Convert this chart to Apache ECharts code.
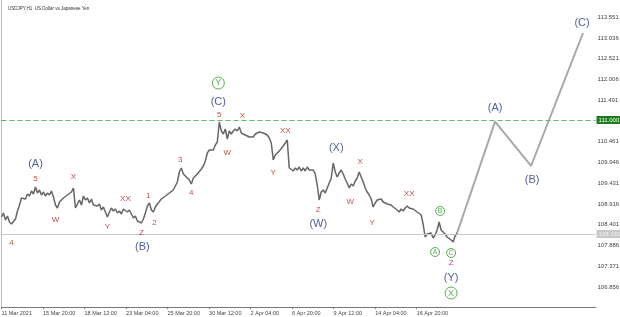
<!DOCTYPE html>
<html>
<head>
<meta charset="utf-8">
<title>USDJPY H1</title>
<script src="https://cdn.jsdelivr.net/npm/echarts@6.0.0/dist/echarts.min.js"></script>
<style>
  html, body { margin: 0; padding: 0; background: #fff; }
  #chart { width: 620px; height: 317px; }
</style>
</head>
<body>
<div id="chart"></div>
<script>
var closes = [
  108.593,108.692,108.519,108.618,108.469,108.419,108.370,108.543,108.742,108.891,
  109.065,109.114,109.040,109.164,109.114,109.238,109.164,109.337,109.189,109.263,
  109.139,109.213,109.114,109.189,109.139,109.238,109.089,108.891,108.816,108.965,
  108.990,109.065,109.040,109.139,109.114,109.213,109.313,108.816,108.916,109.015,
  108.891,109.114,109.015,109.065,108.940,109.040,108.891,108.940,108.866,108.916,
  108.767,108.841,108.717,108.593,108.717,108.816,108.742,108.792,108.692,108.742,
  108.668,108.792,108.816,108.717,108.767,108.668,108.568,108.618,108.494,108.543,
  108.444,108.543,108.692,108.866,108.940,108.767,108.717,108.841,108.916,108.940,
  109.040,109.089,109.114,109.139,109.189,109.213,109.263,109.288,109.462,109.710,
  109.809,109.660,109.610,109.635,109.511,109.412,109.561,109.610,109.660,109.685,
  109.784,109.859,109.983,110.181,110.256,110.305,110.256,110.380,110.454,110.950,
  110.727,110.653,110.777,110.529,110.727,110.653,110.727,110.777,110.727,110.826,
  110.677,110.677,110.628,110.628,110.578,110.603,110.578,110.653,110.702,110.702,
  110.702,110.677,110.653,110.628,110.553,110.429,110.007,110.131,110.082,110.231,
  110.280,110.355,110.429,110.504,109.809,109.834,109.735,109.809,109.759,109.834,
  109.735,109.809,109.735,109.834,109.759,109.710,109.759,109.660,109.387,109.015,
  109.213,109.263,109.189,109.313,109.362,109.561,109.933,109.710,109.586,109.685,
  109.759,109.660,109.536,109.437,109.313,109.412,109.362,109.486,109.561,109.710,
  109.735,109.462,109.313,109.213,109.139,109.040,108.841,108.940,109.015,108.990,
  109.040,108.965,108.990,108.916,108.940,108.891,108.841,108.866,108.767,108.717,
  108.792,108.742,108.816,108.866,108.816,108.841,108.792,108.767,108.717,108.692,
  108.643,108.419,108.097,108.171,108.122,108.196,108.072,108.146,108.270,108.469,
  108.270,108.246,108.171,108.097,108.146,108.023,107.973,108.122,108.196
];
var timeLabels = ['11 Mar 2021','15 Mar 20:00','18 Mar 12:00','23 Mar 04:00','25 Mar 20:00',
  '30 Mar 12:00','2 Apr 04:00','6 Apr 20:00','9 Apr 12:00','14 Apr 04:00','16 Apr 20:00'];
var pointsPerLabel = 20.775; // 64 bars between time labels
var priceTicks = [106.856,107.371,107.886,108.401,108.916,109.431,109.946,110.461,
  111.491,112.006,112.521,113.036,113.551];
var levelPrice = 111.000;
var bidPrice = 108.165;

// forecast path (A)-(B)-(C)
var projX = [228, 247, 265, 291];
var projY = [108.196, 110.96, 109.859, 113.159];

// wave labels: [text, point index, price]
var minorWaves = [
  ['4',5,107.948],['5',17,109.536],['W',27,108.519],['X',36,109.586],['Y',53,108.345],
  ['XX',62,109.040],['Z',70,108.196],['1',73.5,109.114],['2',76.5,108.444],['3',89.5,110.007],
  ['4',95,109.189],['5',109,111.124],['W',113,110.181],['X',120.5,111.099],['Y',136,109.685],
  ['XX',142,110.727],['Z',158.5,108.767],['W',174.5,108.965],['X',179.5,109.958],['Y',185.5,108.444],
  ['XX',204,109.164],['Z',225,107.452]
];
var majorWaves = [
  ['(A)',17,109.908],['(B)',70.5,107.849],['(C)',108.5,111.447],['(W)',158.5,108.419],
  ['(X)',167.5,110.305],['(Y)',225,107.079],['(A)',247,111.298],['(B)',265.5,109.511],['(C)',290.5,113.407]
];
var bigCircled = [['Y',108.5,111.918],['X',225,106.707]];
var smallCircled = [['A',217,107.725],['B',219.5,108.742],['C',225,107.700]];

var font = 'Liberation Sans';
var yMin = 106.36, yMax = 113.953;

var labelPos = timeLabels.map(function (t, i) { return i * pointsPerLabel; });

function toItems(list) {
  return list.map(function (w) { return { name: w[0], value: [w[1], w[2]] }; });
}

function textSeries(list, color, size) {
  return {
    type: 'scatter',
    symbolSize: 0,
    silent: true,
    data: toItems(list),
    label: {
      show: true, position: 'inside', formatter: '{b}',
      color: color, fontSize: size, fontFamily: font
    },
    z: 5
  };
}

function circleSeries(list, size, fontSize) {
  return {
    type: 'scatter',
    symbol: 'circle',
    symbolSize: size,
    silent: true,
    data: toItems(list),
    itemStyle: { color: '#fff', borderColor: '#339933', borderWidth: 1 },
    label: {
      show: true, position: 'inside', formatter: '{b}',
      color: '#339933', fontSize: fontSize, fontFamily: font
    },
    z: 5
  };
}

var chart = echarts.init(document.getElementById('chart'), null, { renderer: 'canvas' });

var option = {
  animation: false,
  backgroundColor: '#fff',
  title: {
    text: 'USDJPY,H1  US Dollar vs Japanese Yen',
    left: 3, top: 1,
    textStyle: { fontSize: 4.5, fontWeight: 'normal', color: '#333', fontFamily: font }
  },
  grid: { left: 1.5, right: 24.5, top: 1, bottom: 10, outerBoundsMode: 'none' },
  xAxis: {
    type: 'value', min: 0, max: 297.25,
    axisLine: { lineStyle: { color: '#777' } },
    axisTick: { customValues: labelPos, length: 2, lineStyle: { color: '#777' } },
    axisLabel: {
      customValues: labelPos,
      formatter: function (v) { return timeLabels[Math.round(v / pointsPerLabel)] || ''; },
      fontSize: 5.5, color: '#444', align: 'left', margin: 3, fontFamily: font
    },
    splitLine: { show: false }
  },
  yAxis: [{
    type: 'value', position: 'right', min: yMin, max: yMax,
    axisLine: { show: true, lineStyle: { color: '#555' } },
    axisTick: { show: false },
    axisLabel: {
      customValues: priceTicks,
      formatter: function (v) { return v.toFixed(3); },
      fontSize: 6, color: '#444', margin: 2, fontFamily: font
    },
    splitLine: { show: false }
  }, {
    type: 'value', position: 'left', min: yMin, max: yMax,
    axisLine: { show: true, lineStyle: { color: '#bbb' } },
    axisTick: { show: false }, axisLabel: { show: false }, splitLine: { show: false }
  }],
  series: [
    {
      type: 'line',
      data: closes.map(function (c, i) { return [i, c]; }),
      showSymbol: false,
      lineStyle: { color: '#666', width: 1.5 },
      markLine: {
        silent: true, symbol: 'none',
        data: [
          {
            yAxis: levelPrice,
            lineStyle: { color: '#5cb85c', type: [5, 3], width: 1 },
            label: {
              position: 'end', distance: 1, formatter: levelPrice.toFixed(3),
              backgroundColor: '#1e7b1e', color: '#fff', fontSize: 6, padding: [1, 2], fontFamily: font
            }
          },
          {
            yAxis: bidPrice,
            lineStyle: { color: '#c8c8c8', type: 'solid', width: 1 },
            label: {
              position: 'end', distance: 1, formatter: bidPrice.toFixed(3),
              backgroundColor: '#c8c8c8', color: '#eee', fontSize: 6, padding: [1, 2], fontFamily: font
            }
          }
        ]
      },
      z: 3
    },
    {
      type: 'line',
      data: projX.map(function (x, i) { return [x, projY[i]]; }),
      showSymbol: false,
      lineStyle: { color: '#a8a8a8', width: 2 },
      z: 2
    },
    textSeries(minorWaves, '#a8281f', 8),
    textSeries(majorWaves, '#27347f', 11),
    circleSeries(bigCircled, 12, 9),
    circleSeries(smallCircled, 9, 7)
  ]
};

chart.setOption(option);
</script>
</body>
</html>
